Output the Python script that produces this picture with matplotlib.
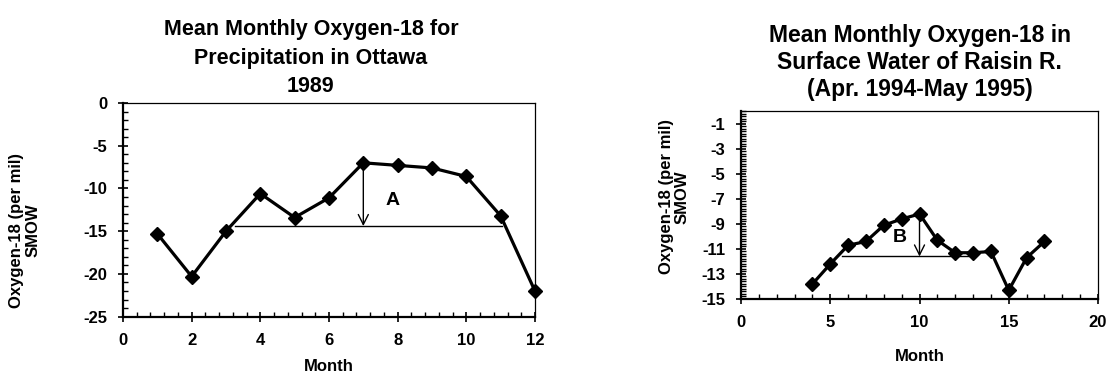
import matplotlib.pyplot as plt
from matplotlib.ticker import MultipleLocator

plt.rcParams['font.family'] = ['Liberation Sans', 'DejaVu Sans']
plt.rcParams['font.weight'] = 'bold'
plt.rcParams['axes.unicode_minus'] = False

# Ottawa precipitation, 1989
ottawa_month = [1, 2, 3, 4, 5, 6, 7, 8, 9, 10, 11, 12]
ottawa_o18 = [-15.3, -20.3, -15.0, -10.6, -13.4, -11.1, -7.0, -7.3, -7.6, -8.6, -13.2, -22.0]
ottawa_base = -14.4
ottawa_base_x = [3.25, 11.05]

# Raisin River surface water, Apr 1994 - May 1995
raisin_month = [4, 5, 6, 7, 8, 9, 10, 11, 12, 13, 14, 15, 16, 17]
raisin_o18 = [-13.8, -12.2, -10.7, -10.4, -9.1, -8.6, -8.2, -10.3, -11.3, -11.3, -11.2, -14.3, -11.7, -10.4]
raisin_base = -11.6
raisin_base_x = [5.65, 12.9]

ylabel = 'Oxygen-18 (per mil)\nSMOW'

fig = plt.figure(figsize=(11.12, 3.75), dpi=100)
ax1 = fig.add_axes([0.1106, 0.1555, 0.3705, 0.5699])
ax2 = fig.add_axes([0.6664, 0.2027, 0.3210, 0.5])


def style_axes(ax):
    for side in ['top', 'right']:
        ax.spines[side].set_linewidth(0.9)
    for side in ['bottom', 'left']:
        ax.spines[side].set_linewidth(1.6)
    ax.tick_params(which='major', direction='inout', length=7, width=1.2,
                   labelsize=12, pad=8, top=False, right=False)
    ax.tick_params(which='minor', direction='in', length=3.5, width=1,
                   top=False, right=False)
    for lab in ax.get_xticklabels() + ax.get_yticklabels():
        lab.set_fontweight('bold')


# left panel
ax1.plot(ottawa_month, ottawa_o18, color='black', lw=2.3, marker='D', ms=7.5,
         clip_on=False, zorder=3)
ax1.plot(ottawa_base_x, [ottawa_base, ottawa_base], color='black', lw=1)
ax1.annotate('', xy=(7, ottawa_base), xytext=(7, ottawa_o18[6]),
             arrowprops=dict(arrowstyle='->', lw=1, color='black', mutation_scale=18,
                             shrinkA=0, shrinkB=0))
ax1.text(7.85, -11.4, 'A', fontsize=14, fontweight='bold', ha='center', va='center')
ax1.set_xlim(0, 12)
ax1.set_ylim(-25, 0)
ax1.xaxis.set_major_locator(MultipleLocator(2))
ax1.xaxis.set_minor_locator(MultipleLocator(0.4))
ax1.yaxis.set_major_locator(MultipleLocator(5))
ax1.yaxis.set_minor_locator(MultipleLocator(1))
style_axes(ax1)
ax1.set_xlabel('Month', fontsize=12, fontweight='bold', labelpad=8)
ax1.set_ylabel(ylabel, fontsize=12, fontweight='bold', linespacing=1.1)
ax1.yaxis.set_label_coords(-0.2, 0.405)
ax1.set_title('Mean Monthly Oxygen-18 for\nPrecipitation in Ottawa\n1989',
              fontsize=15.5, fontweight='bold', linespacing=1.45, pad=8, x=0.456)

# right panel
ax2.plot(raisin_month, raisin_o18, color='black', lw=2.3, marker='D', ms=7.5,
         clip_on=False, zorder=3)
ax2.plot(raisin_base_x, [raisin_base, raisin_base], color='black', lw=1)
ax2.annotate('', xy=(10, raisin_base), xytext=(10, raisin_o18[6]),
             arrowprops=dict(arrowstyle='->', lw=1, color='black', mutation_scale=18,
                             shrinkA=0, shrinkB=0))
ax2.text(8.9, -10.1, 'B', fontsize=14, fontweight='bold', ha='center', va='center')
ax2.set_xlim(0, 20)
ax2.set_ylim(-15, 0)
ax2.set_yticks(range(-15, 0, 2))
ax2.xaxis.set_major_locator(MultipleLocator(5))
ax2.xaxis.set_minor_locator(MultipleLocator(1))
ax2.yaxis.set_minor_locator(MultipleLocator(0.2))
style_axes(ax2)
ax2.set_xlabel('Month', fontsize=12, fontweight='bold', labelpad=14)
ax2.set_ylabel(ylabel, fontsize=12, fontweight='bold', linespacing=1.1)
ax2.yaxis.set_label_coords(-0.143, 0.544)
ax2.set_title('Mean Monthly Oxygen-18 in\nSurface Water of Raisin R.\n(Apr. 1994-May 1995)',
              fontsize=16.5, fontweight='bold', linespacing=1.22, pad=11)

fig.savefig('out.png', dpi=100)
